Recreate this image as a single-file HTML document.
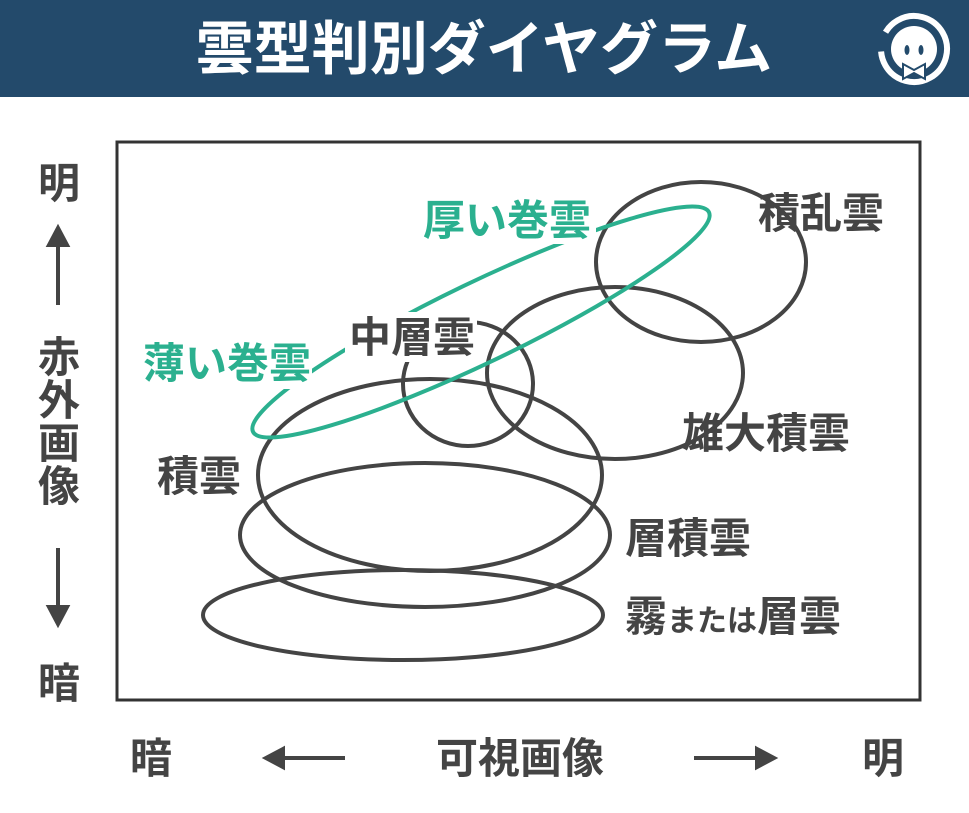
<!DOCTYPE html>
<html><head><meta charset="utf-8"><style>
body{margin:0;width:969px;height:808px;background:#fff;overflow:hidden}
text{font-family:"Liberation Sans","Noto Sans CJK JP",sans-serif;font-weight:bold}
</style></head><body>
<svg width="969" height="808" viewBox="0 0 969 808">
<rect x="0" y="0" width="969" height="97" fill="#234a6b"/>
<text x="484" y="69" font-size="58" fill="#fff" text-anchor="middle">雲型判別ダイヤグラム</text>
<g transform="translate(914,49)">
<circle r="33" fill="none" stroke="#fff" stroke-width="6" stroke-dasharray="170 20" transform="rotate(-120)"/>
<circle r="23" fill="#fff"/>
<ellipse cx="-7" cy="1" rx="2.5" ry="5" fill="#234a6b"/>
<ellipse cx="7" cy="1" rx="2.5" ry="5" fill="#234a6b"/>
<path d="M-11 15 L0 21 L11 15 L11 30 L0 24 L-11 30Z" fill="#fff" stroke="#234a6b" stroke-width="2"/>
</g>
<rect x="117" y="142" width="803" height="558" fill="none" stroke="#333" stroke-width="3"/>
<g fill="none" stroke="#444" stroke-width="4">
<ellipse cx="701" cy="262" rx="105" ry="80"/>
<ellipse cx="615" cy="373" rx="128" ry="86"/>
<ellipse cx="468" cy="384" rx="65" ry="62"/>
<ellipse cx="430" cy="475" rx="172" ry="96"/>
<ellipse cx="425" cy="535" rx="185" ry="72"/>
<ellipse cx="403" cy="615" rx="200" ry="45"/>
</g>
<ellipse cx="481" cy="322" rx="253" ry="40" transform="rotate(-25.7 481 322)" fill="none" stroke="#2bb08f" stroke-width="4"/>
<g fill="#fff">
<rect x="418" y="192" width="178" height="52"/>
<rect x="140" y="335" width="172" height="54"/>
<rect x="345" y="312" width="132" height="50"/>
</g>
<g font-size="42" fill="#2bb08f">
<text x="423" y="235">厚い巻雲</text>
<text x="143" y="378">薄い巻雲</text>
</g>
<g font-size="42" fill="#444">
<text x="349" y="352">中層雲</text>
<text x="758" y="228">積乱雲</text>
<text x="682" y="448">雄大積雲</text>
<text x="157" y="491">積雲</text>
<text x="625" y="553">層積雲</text>
<text x="625" y="631">霧<tspan font-size="30">または</tspan>層雲</text>
<text x="38" y="198">明</text>
<text x="38" y="698">暗</text>
<text x="38" y="372">赤</text>
<text x="38" y="415">外</text>
<text x="38" y="458">画</text>
<text x="38" y="501">像</text>
<text x="130" y="773">暗</text>
<text x="862" y="773">明</text>
<text x="436" y="773">可視画像</text>
</g>
<g stroke="#444" stroke-width="4" fill="#444">
<line x1="58" y1="305" x2="58" y2="240"/><path d="M49 245 L58 228 L67 245Z"/>
<line x1="58" y1="548" x2="58" y2="612"/><path d="M49 607 L58 624 L67 607Z"/>
<line x1="345" y1="758" x2="278" y2="758"/><path d="M283 749 L266 758 L283 767Z"/>
<line x1="694" y1="758" x2="762" y2="758"/><path d="M757 749 L774 758 L757 767Z"/>
</g>
</svg>
</body></html>
